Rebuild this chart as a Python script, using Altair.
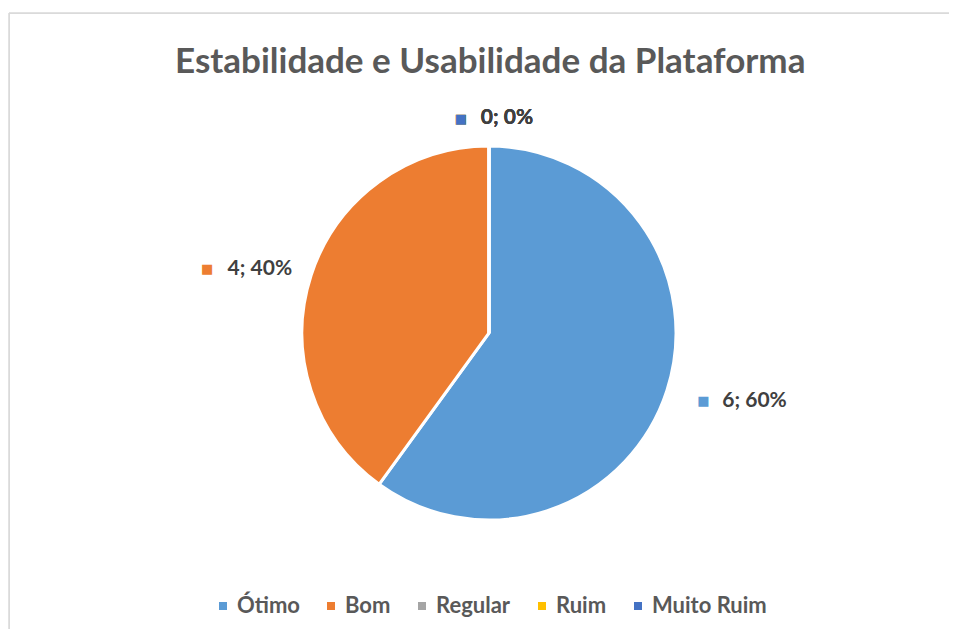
import altair as alt
import pandas as pd

categorias = ["Ótimo", "Bom", "Regular", "Ruim", "Muito Ruim"]
valores = [6, 4, 0, 0, 0]
cores = ["#5B9BD5", "#ED7D31", "#A5A5A5", "#FFC000", "#4472C4"]

total = sum(valores)
df = pd.DataFrame({
    "categoria": categorias,
    "valor": valores,
    "ordem": list(range(len(categorias))),
    "rotulo": [f"{v}; {round(100 * v / total)}%" for v in valores],
})

FONT = "Lato"
W, H = 940, 616
CX, CY = 480, 320
cx = alt.value(CX)
cy = alt.value(CY)
theta = alt.Theta("valor:Q", stack=True)
order = alt.Order("ordem:Q")
color = alt.Color(
    "categoria:N",
    scale=alt.Scale(domain=categorias, range=cores),
    sort=categorias,
    legend=alt.Legend(
        title=None,
        orient="none",
        direction="horizontal",
        legendX=203,
        legendY=582,
        symbolType="square",
        symbolSize=64,
        symbolStrokeWidth=0,
        labelFont=FONT,
        labelFontWeight="bold",
        labelFontSize=22,
        labelColor="#595959",
        labelOffset=3,
        columnPadding=20,
        padding=0,
    ),
)

base = alt.Chart(df)

# chart-area border (only top and left edges are inside the page)
first = "datum.ordem == 0"
border_left = base.mark_rule(color="#D9D9D9", strokeWidth=1.5).encode(
    x=alt.value(0), y=alt.value(0), y2=alt.value(H)
).transform_filter(first)
border_top = base.mark_rule(color="#D9D9D9", strokeWidth=1.5).encode(
    y=alt.value(0), x=alt.value(0), x2=alt.value(W)
).transform_filter(first)

pie = base.mark_arc(radius=187, stroke="white", strokeWidth=3).encode(
    theta=theta, color=color, order=order, x=cx, y=cy
)

lbl_style = dict(font=FONT, fontWeight="bold", fontSize=21, color="#404040")
sq_style = dict(fontSize=13, font="DejaVu Sans")

def label_pair(cond, radius, align, baseline, dx_txt, dx_sq, dy_sq=0):
    txt = base.mark_text(radius=radius, align=align, baseline=baseline, dx=dx_txt, **lbl_style).encode(
        theta=theta, order=order, x=cx, y=cy,
        text=alt.condition(cond, "rotulo:N", alt.value("")),
    )
    sq = base.mark_text(radius=radius, align="center", baseline=baseline, dx=dx_sq, dy=dy_sq, **sq_style).encode(
        theta=theta, order=order, x=cx, y=cy, color=color,
        text=alt.condition(cond, alt.value("■"), alt.value("")),
    )
    return [txt, sq]

layers = [border_left, border_top, pie]
layers += label_pair("datum.categoria == 'Ótimo'", 219, "left", "middle", 25, 6)
layers += label_pair("datum.categoria == 'Bom'", 207, "right", "middle", 0, -85)
layers += label_pair("datum.valor == 0", 205, "center", "bottom", 18, -28, -2)

chart = (
    alt.layer(*layers)
    .properties(
        width=W,
        height=H,
        autosize=alt.AutoSizeParams(type="none"),
        padding={"left": 1, "top": 5, "right": 0, "bottom": 0},
        title=alt.TitleParams(
            "Estabilidade e Usabilidade da Plataforma",
            font=FONT,
            fontWeight="bold",
            fontSize=35,
            color="#595959",
            anchor="start",
            frame="group",
            dx=166,
            dy=37,
            baseline="alphabetic",
            offset=-59,
        ),
    )
    .configure_view(stroke=None)
    .configure(background="white")
)

chart.save("out.html", embed_options={"renderer": "svg", "actions": False})
